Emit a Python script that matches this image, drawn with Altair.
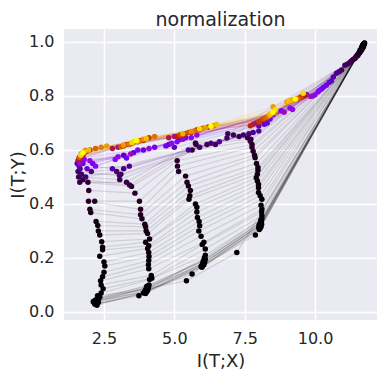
import math
import altair as alt
import pandas as pd

# epoch numbers of the saved snapshots
epochs = [1, 2, 3, 4, 5, 6, 7, 8, 9, 10, 12, 14, 16, 18, 20,
          23, 26, 30, 34, 39, 45, 51, 58, 66, 76, 87, 99, 113, 129, 147,
          168, 192, 219, 250, 285, 326, 372, 425, 485, 554, 632, 722, 824, 941, 1100,
          1300, 1500, 1700, 1900, 2100, 2400, 2700, 3000, 3300, 3600,
          4000, 4300, 4600, 4900, 5200, 5500, 5800, 6100, 6400, 6700,
          7000, 7300, 7600, 7900, 8200, 8500, 8800, 9100, 9500, 10000]

# layer 1 (input-side)
L1_x = [11.70, 11.72, 11.68, 11.75, 11.71, 11.66, 11.74, 11.69, 11.73, 11.70, 11.65, 11.76, 11.72, 11.68, 11.74,
        11.70, 11.65, 11.72, 11.60, 11.68, 11.62, 11.70, 11.58, 11.66, 11.60, 11.64, 11.55, 11.62, 11.58, 11.50,
        11.55, 11.48, 11.52, 11.45, 11.40, 11.42, 11.35, 11.30, 11.24, 11.15, 11.06, 10.94, 10.85, 10.76, 10.65,
        10.58, 10.50, 10.40, 10.30, 10.23, 10.15, 10.10, 10.00, 9.92, 9.85,
        9.70, 9.60, 9.65, 9.50, 9.55, 9.40, 9.45, 9.35, 9.50, 9.30,
        9.40, 9.20, 9.35, 9.10, 9.25, 9.00, 9.15, 9.05, 9.58, 9.30]
L1_y = [0.990, 0.992, 0.985, 0.995, 0.988, 0.980, 0.993, 0.986, 0.990, 0.984, 0.975, 0.996, 0.989, 0.983, 0.991,
        0.985, 0.975, 0.982, 0.970, 0.978, 0.968, 0.980, 0.962, 0.972, 0.965, 0.970, 0.958, 0.966, 0.960, 0.952,
        0.956, 0.948, 0.950, 0.944, 0.938, 0.940, 0.935, 0.930, 0.925, 0.918, 0.914, 0.896, 0.890, 0.884, 0.870,
        0.855, 0.850, 0.840, 0.832, 0.826, 0.820, 0.815, 0.804, 0.800, 0.798,
        0.805, 0.800, 0.802, 0.795, 0.798, 0.790, 0.793, 0.789, 0.796, 0.787,
        0.790, 0.784, 0.789, 0.781, 0.785, 0.778, 0.783, 0.780, 0.810, 0.789]

# layer 2
L2_x = [8.05, 8.08, 8.02, 8.10, 8.04, 7.88, 8.06, 8.00, 8.09, 8.03, 7.22, 8.07, 8.05, 8.01, 8.11,
        8.11, 8.10, 8.11, 8.08, 8.11, 8.05, 7.99, 7.99, 7.99, 7.95, 7.91, 7.95, 7.97, 7.97, 7.92,
        7.87, 7.85, 7.80, 7.76, 7.76, 7.70, 7.72, 7.60, 7.30, 7.10, 6.90, 7.45, 7.65, 7.80, 8.00,
        8.00, 8.20, 8.30, 8.40, 8.50, 8.64, 8.80, 9.11, 9.20, 8.90,
        7.80, 8.00, 7.90, 8.10, 8.20, 7.70, 8.30, 8.00, 8.40, 8.15,
        8.50, 8.25, 8.60, 8.35, 8.45, 8.51, 8.55, 8.40, 8.60, 8.50]
L2_y = [0.310, 0.315, 0.305, 0.325, 0.320, 0.285, 0.330, 0.312, 0.335, 0.318, 0.220, 0.340, 0.328, 0.322, 0.345,
        0.356, 0.370, 0.380, 0.395, 0.417, 0.430, 0.442, 0.460, 0.472, 0.485, 0.497, 0.510, 0.525, 0.535, 0.550,
        0.571, 0.580, 0.595, 0.610, 0.620, 0.632, 0.640, 0.645, 0.650, 0.655, 0.660, 0.655, 0.660, 0.665, 0.670,
        0.690, 0.695, 0.700, 0.715, 0.730, 0.742, 0.745, 0.755, 0.750, 0.740,
        0.695, 0.700, 0.700, 0.710, 0.715, 0.690, 0.720, 0.705, 0.730, 0.715,
        0.735, 0.720, 0.740, 0.725, 0.735, 0.760, 0.745, 0.730, 0.750, 0.740]

# layer 3
L3_x = [6.00, 6.05, 5.98, 6.08, 6.02, 5.95, 6.10, 5.63, 6.04, 6.00, 5.43, 6.07, 6.03, 5.99, 6.10,
        6.10, 5.99, 6.05, 5.95, 5.87, 5.90, 5.88, 5.82, 5.80, 5.80, 5.75, 5.52, 5.55, 5.57, 5.50,
        5.45, 5.40, 5.15, 5.11, 5.10, 5.63, 5.77, 5.75, 6.16, 6.46, 6.87, 5.90, 6.30, 5.50, 6.60,
        5.00, 4.80, 5.20, 4.70, 5.40, 5.10, 5.60, 4.90, 5.80, 5.30,
        5.00, 5.30, 4.80, 5.60, 5.10, 5.90, 5.40, 6.20, 5.20, 5.80,
        5.50, 6.00, 5.70, 6.40, 5.60, 6.10, 5.30, 6.50, 5.90, 6.30]
L3_y = [0.170, 0.175, 0.165, 0.185, 0.180, 0.168, 0.195, 0.140, 0.190, 0.178, 0.115, 0.200, 0.188, 0.172, 0.210,
        0.233, 0.250, 0.258, 0.280, 0.300, 0.319, 0.335, 0.350, 0.370, 0.388, 0.400, 0.417, 0.430, 0.450, 0.466,
        0.480, 0.503, 0.520, 0.540, 0.560, 0.600, 0.620, 0.626, 0.620, 0.620, 0.644, 0.610, 0.625, 0.600, 0.630,
        0.610, 0.620, 0.640, 0.615, 0.645, 0.630, 0.645, 0.625, 0.655, 0.640,
        0.650, 0.655, 0.645, 0.665, 0.650, 0.675, 0.660, 0.685, 0.655, 0.675,
        0.665, 0.680, 0.670, 0.690, 0.668, 0.682, 0.660, 0.695, 0.678, 0.688]

# layer 4
L4_x = [3.98, 4.02, 3.95, 4.05, 4.00, 3.90, 4.08, 3.96, 4.03, 3.74, 4.06, 3.99, 4.10, 4.01, 4.12,
        4.20, 4.18, 4.09, 4.08, 4.09, 4.10, 4.09, 4.05, 4.09, 3.98, 4.12, 4.05, 4.00, 3.98, 3.95,
        3.85, 3.80, 3.80, 3.76, 3.60, 3.48, 3.41, 3.30, 3.06, 3.05, 3.10, 2.95, 3.20, 3.40, 2.80,
        3.20, 3.55, 3.90, 3.30, 4.30, 3.70, 2.90, 3.00, 4.10, 3.45,
        3.00, 3.40, 2.80, 3.70, 3.20, 3.90, 3.30, 4.10, 3.50, 3.80,
        3.10, 3.60, 4.30, 3.40, 3.90, 3.20, 3.70, 4.00, 3.50, 3.65]
L4_y = [0.068, 0.075, 0.072, 0.080, 0.085, 0.070, 0.090, 0.078, 0.095, 0.060, 0.088, 0.082, 0.100, 0.092, 0.120,
        0.125, 0.135, 0.160, 0.175, 0.190, 0.205, 0.220, 0.235, 0.245, 0.258, 0.270, 0.290, 0.300, 0.315, 0.325,
        0.345, 0.360, 0.380, 0.410, 0.440, 0.465, 0.470, 0.480, 0.490, 0.505, 0.510, 0.520, 0.530, 0.540, 0.530,
        0.580, 0.590, 0.600, 0.570, 0.610, 0.600, 0.565, 0.575, 0.605, 0.585,
        0.610, 0.620, 0.605, 0.630, 0.615, 0.635, 0.620, 0.645, 0.625, 0.635,
        0.612, 0.630, 0.650, 0.622, 0.640, 0.618, 0.632, 0.642, 0.628, 0.635]

# layer 5 (output-side)
L5_x = [2.20, 2.25, 2.15, 2.30, 2.22, 2.18, 2.28, 2.12, 2.35, 2.24, 2.19, 2.27, 2.31, 2.16, 2.40,
        2.47, 2.40, 2.38, 2.45, 2.50, 2.53, 2.50, 2.35, 2.45, 2.45, 2.42, 2.35, 2.30, 2.28, 2.22,
        2.03, 2.00, 1.95, 2.17, 1.96, 1.93, 1.75, 1.64, 1.60, 1.58, 1.70, 1.85, 2.05, 1.65, 1.55,
        1.62, 1.75, 1.90, 1.58, 2.10, 1.70, 2.20, 1.80, 2.00, 1.65,
        1.65, 1.75, 1.60, 1.80, 1.70, 1.90, 1.66, 2.00, 1.72, 1.85,
        1.62, 2.20, 1.78, 2.40, 1.70, 2.60, 1.82, 1.95, 1.68, 1.75]
L5_y = [0.030, 0.025, 0.040, 0.035, 0.045, 0.028, 0.050, 0.038, 0.055, 0.030, 0.042, 0.060, 0.048, 0.033, 0.070,
        0.086, 0.100, 0.115, 0.130, 0.147, 0.170, 0.185, 0.206, 0.230, 0.240, 0.260, 0.285, 0.300, 0.320, 0.335,
        0.368, 0.380, 0.410, 0.410, 0.450, 0.480, 0.490, 0.480, 0.500, 0.520, 0.510, 0.500, 0.520, 0.530, 0.550,
        0.540, 0.550, 0.530, 0.560, 0.550, 0.570, 0.540, 0.565, 0.560, 0.550,
        0.570, 0.580, 0.565, 0.590, 0.585, 0.595, 0.575, 0.600, 0.588, 0.598,
        0.572, 0.605, 0.592, 0.610, 0.585, 0.615, 0.595, 0.600, 0.580, 0.590]

x_ticks = [2.5, 5.0, 7.5, 10.0]
y_ticks = [0.0, 0.2, 0.4, 0.6, 0.8, 1.0]

layers = [(L1_x, L1_y), (L2_x, L2_y), (L3_x, L3_y), (L4_x, L4_y), (L5_x, L5_y)]
rows = []
for i, ep in enumerate(epochs):
    for li, (xs, ys) in enumerate(layers):
        rows.append({"idx": i, "epoch": ep, "layer": li, "x": xs[i], "y": ys[i]})
df = pd.DataFrame(rows)


def gnuplot(t):
    r = math.sqrt(t)
    g = t ** 3
    b = max(0.0, min(1.0, math.sin(2 * math.pi * t)))
    return "#%02x%02x%02x" % (round(r * 255), round(g * 255), round(b * 255))


stops = [k / 40 for k in range(41)]
emax = max(epochs)
color_scale = alt.Scale(domain=[s * emax for s in stops], range=[gnuplot(s) for s in stops],
                        interpolate="rgb", clamp=True)

xenc = alt.X("x:Q", scale=alt.Scale(domain=[1.08, 12.2], nice=False, zero=False),
             axis=alt.Axis(values=x_ticks, format=".1f", title="I(T;X)"))
yenc = alt.Y("y:Q", scale=alt.Scale(domain=[-0.03, 1.048], nice=False, zero=False),
             axis=alt.Axis(values=y_ticks, format=".1f", title="I(T;Y)"))
cenc = alt.Color("epoch:Q", scale=color_scale, legend=None)

base = alt.Chart(df)
lines = base.mark_line(opacity=0.12, strokeWidth=1.2).encode(
    x=xenc, y=yenc, color=cenc, detail="idx:N", order="layer:Q")
points = base.mark_circle(size=30, opacity=1).encode(
    x=xenc, y=yenc, color=cenc, order=alt.Order("idx:Q"))

chart = alt.layer(lines, points).properties(
    width=313, height=291,
    title=alt.TitleParams("normalization", fontSize=19, font="DejaVu Sans", fontWeight="normal",
                          color="#262626", offset=-1),
    autosize=alt.AutoSizeParams(type="none"),
    padding={"left": 56, "top": 21, "right": 2, "bottom": 50},
    background="white",
).configure_view(fill="#EAEAF2", stroke=None).configure_axis(
    grid=True, gridColor="white", gridWidth=1.5, domain=False, ticks=False,
    labelFont="DejaVu Sans", labelFontSize=16, labelColor="#262626", labelPadding=10,
    titleFont="DejaVu Sans", titleFontSize=18, titleFontWeight="normal", titleColor="#262626",
).configure_axisY(titlePadding=1).configure_axisX(titlePadding=6)

chart.save("out.html", embed_options={"renderer": "svg", "actions": False})
